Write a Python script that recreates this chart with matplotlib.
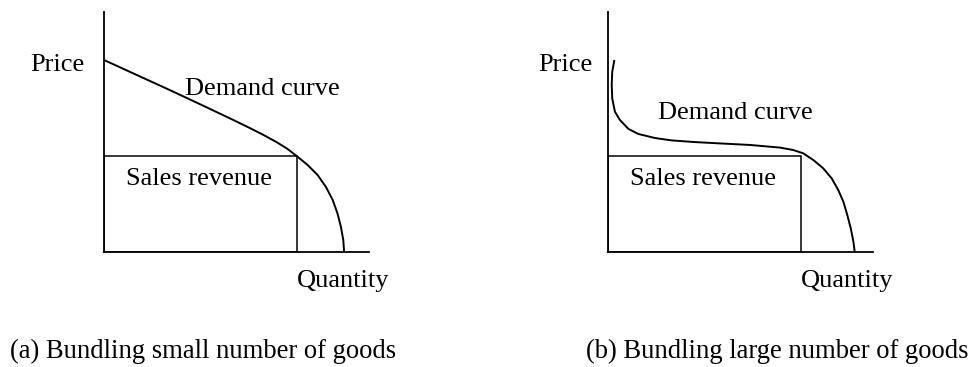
"""
Two demand curve sketches: bundling a small vs. a large number of goods.
"""
import matplotlib
matplotlib.use("Agg")
import matplotlib.pyplot as plt
from matplotlib.patches import Rectangle

plt.rcParams["font.family"] = ["Liberation Serif", "DejaVu Serif"]

# demand curves (quantity, price), axes run 0..10
small_q = [0.0, 1.11, 2.38, 3.64, 4.90, 5.53, 6.03, 6.54, 6.92, 7.27,
           7.68, 8.06, 8.37, 8.63, 8.81, 8.94, 9.03, 9.06]
small_p = [8.00, 7.44, 6.80, 6.15, 5.49, 5.15, 4.87, 4.56, 4.30, 4.00,
           3.63, 3.21, 2.72, 2.17, 1.61, 1.05, 0.50, 0.0]

large_q = [0.24, 0.16, 0.14, 0.16, 0.26, 0.45, 0.77, 1.14, 1.77, 2.40, 3.28,
           4.30, 5.36, 6.49, 6.99, 7.37, 7.75, 8.12, 8.44, 8.69, 8.88, 9.03,
           9.16, 9.26, 9.31]
large_p = [8.00, 7.51, 6.96, 6.40, 5.85, 5.50, 5.13, 4.92, 4.75, 4.65, 4.58,
           4.52, 4.46, 4.35, 4.25, 4.11, 3.83, 3.49, 3.07, 2.58, 2.10, 1.54,
           0.99, 0.43, 0.0]

# sales revenue box: price times quantity sold
rev_q = 7.27
rev_p = 4.0

captions = ["(a) Bundling small number of goods", "(b) Bundling large number of goods"]

W, H = 978, 367
fig = plt.figure(figsize=(W / 100, H / 100), dpi=100)

FS = 19


def panel(left_px, q, p, demand_xy, price_right):
    ax = fig.add_axes([left_px / W, (H - 252) / H, 265 / W, 240 / H])
    ax.set_xlim(0, 10)
    ax.set_ylim(0, 10)
    for s in ["top", "right"]:
        ax.spines[s].set_visible(False)
    for s in ["left", "bottom"]:
        ax.spines[s].set_linewidth(1.3)
    ax.set_xticks([])
    ax.set_yticks([])
    ax.patch.set_visible(False)

    ax.plot(q, p, color="black", lw=1.4, solid_joinstyle="round", solid_capstyle="butt")
    ax.add_patch(Rectangle((0, 0), rev_q, rev_p, fill=False, ec="black", lw=1.1))

    ax.text(price_right, 7.55, "Price", ha="right", va="baseline", fontsize=FS, clip_on=False)
    ax.text(demand_xy[0], demand_xy[1], "Demand curve", ha="left", va="baseline", fontsize=FS)
    ax.text(0.84, 2.79, "Sales revenue", ha="left", va="baseline", fontsize=FS)
    ax.text(7.28, -1.45, "Quantity", ha="left", va="baseline", fontsize=FS, clip_on=False)
    return ax


panel(104, small_q, small_p, (3.07, 6.54), -0.72)
panel(608, large_q, large_p, (1.90, 5.53), -0.60)

fig.text(10 / W, (H - 358) / H, captions[0], ha="left", va="baseline", fontsize=19.2)
fig.text(586 / W, (H - 358) / H, captions[1], ha="left", va="baseline", fontsize=19.2)

fig.savefig("out.png", dpi=100)
